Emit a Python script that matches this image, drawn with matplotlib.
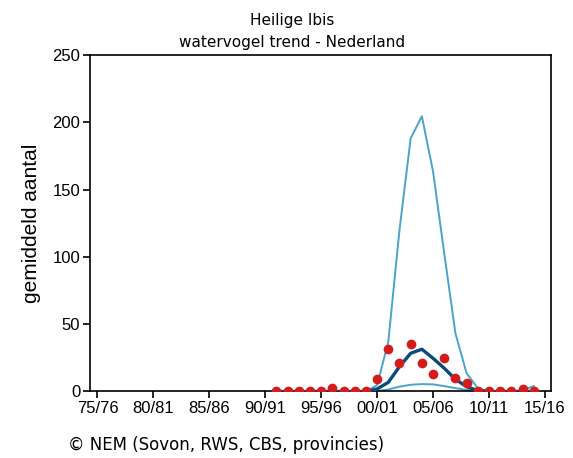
import numpy as np
import matplotlib
matplotlib.use('Agg')
import matplotlib.pyplot as plt

# seasons 91/92 .. 14/15 (start year)
years = list(range(1991, 2015))
counts = [0, 0, 0, 0, 0, 2.4, 0, 0, 0, 9.1, 31.4, 21.4, 35.3, 21.4, 12.8, 25.1,
          10.3, 6.5, 0, 0, 0, 0, 1.9, 0]
trend = [0, 0, 0, 0, 0, 0, 0, 0, 0, 1.9, 6.8, 18.5, 28.4, 31.4, 24.7, 17.3,
         9.1, 3.6, 0.7, 0, 0, 0, 0, 0]
upper = [0, 0, 0, 0, 0, 0, 0, 0, 0, 4.8, 36.8, 120, 188, 204.5, 163.5, 102.8,
         43.3, 13.5, 2.5, 0, 0, 0, 1, 4]
lower = [0, 0, 0, 0, 0, 0, 0, 0, 0, 0.3, 1.5, 3.6, 5.0, 5.5, 5.3, 4.0,
         2.5, 1.2, 0.3, 0, 0, 0, 0, 0]

tick_years = list(range(1975, 2016, 5))
tick_labels = ['75/76', '80/81', '85/86', '90/91', '95/96', '00/01', '05/06', '10/11', '15/16']
y_ticks = [0, 50, 100, 150, 200, 250]

fig = plt.figure(figsize=(5.73, 4.58), dpi=100)
ax = fig.add_axes([0.157, 0.1452, 0.8045, 0.7347])

ax.plot(years, upper, color='#4ba3c9', lw=1.4, zorder=2)
ax.plot(years, lower, color='#4ba3c9', lw=1.4, zorder=2)
ax.plot(years, trend, color='#0d4a7c', lw=2.4, zorder=3)
ax.plot(years, counts, 'o', color='#d41c1c', ms=7, mec='none', zorder=4)

ax.set_xlim(1974.33, 2015.54)
ax.set_ylim(0, 250)
ax.set_xticks(tick_years)
ax.set_xticklabels(tick_labels, family='Liberation Sans', fontsize=12)
ax.set_yticks(y_ticks)
ax.set_yticklabels([str(v) for v in y_ticks], family='Liberation Sans', fontsize=12)
ax.tick_params(direction='out', length=5, width=1.2, pad=2, color='black')
for s in ax.spines.values():
    s.set_linewidth(1.2)
    s.set_color('black')

ax.set_ylabel('gemiddeld aantal', family='Liberation Sans', fontsize=15, labelpad=8)

fig.text(0.51, 1 - 20 / 458, 'Heilige Ibis', ha='center', va='center', fontsize=11, family='DejaVu Sans')
fig.text(0.51, 1 - 42 / 458, 'watervogel trend - Nederland', ha='center', va='center', fontsize=11,
         family='DejaVu Sans')
fig.text(68 / 573, 1 - 445 / 458, '© NEM (Sovon, RWS, CBS, provincies)', ha='left', va='center',
         fontsize=12, family='DejaVu Sans')

fig.savefig('out.png', dpi=100)
